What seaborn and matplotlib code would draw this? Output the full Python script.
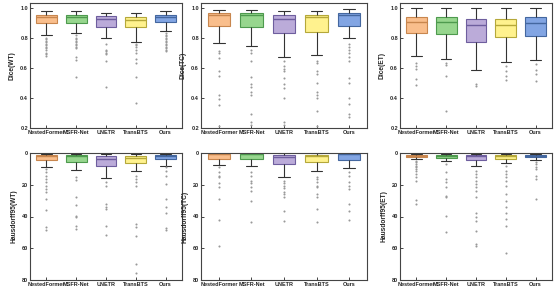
import matplotlib
matplotlib.use("Agg")
import matplotlib.pyplot as plt
import seaborn as sns

# Methods and colours
methods = ["NestedFormer", "MSFR-Net", "UNETR", "TransBTS", "Ours"]
fill_colors = ["#F9BE8C", "#97D68E", "#BBABD9", "#FFF28E", "#82A5E3"]
edge_colors = ["#C8864E", "#4E9A4E", "#6E5E9E", "#B5A83A", "#44679F"]

# five-number summaries per method: [whisker low, q1, median, q3, whisker high]
dice_wt_box = [[0.82, 0.902, 0.938, 0.953, 0.98],
               [0.831, 0.902, 0.94, 0.953, 0.98],
               [0.798, 0.876, 0.924, 0.947, 0.969],
               [0.776, 0.876, 0.92, 0.942, 0.969],
               [0.849, 0.909, 0.94, 0.953, 0.98]]
dice_wt_out = [[0.80, 0.79, 0.78, 0.77, 0.76, 0.75, 0.74, 0.73, 0.72, 0.70, 0.69, 0.68],
               [0.82, 0.80, 0.79, 0.78, 0.77, 0.76, 0.75, 0.74, 0.73, 0.675, 0.653, 0.538],
               [0.758, 0.72, 0.71, 0.70, 0.69, 0.649, 0.471],
               [0.76, 0.75, 0.74, 0.72, 0.70, 0.658, 0.631, 0.542, 0.369],
               [0.83, 0.82, 0.81, 0.80, 0.79, 0.78, 0.77, 0.76, 0.75, 0.74, 0.73, 0.72, 0.71]]

dice_tc_box = [[0.764, 0.882, 0.953, 0.964, 0.989],
               [0.747, 0.876, 0.953, 0.964, 0.989],
               [0.676, 0.836, 0.927, 0.951, 0.98],
               [0.687, 0.838, 0.938, 0.953, 0.98],
               [0.798, 0.882, 0.953, 0.969, 0.991]]
dice_tc_out = [[0.71, 0.70, 0.667, 0.578, 0.547, 0.42, 0.39, 0.35, 0.21],
               [0.72, 0.70, 0.644, 0.542, 0.49, 0.47, 0.44, 0.42, 0.29, 0.24, 0.22],
               [0.644, 0.611, 0.59, 0.578, 0.53, 0.49, 0.467, 0.40, 0.24, 0.22],
               [0.644, 0.631, 0.578, 0.56, 0.50, 0.44, 0.42, 0.40, 0.31, 0.21],
               [0.76, 0.74, 0.72, 0.70, 0.676, 0.644, 0.53, 0.50, 0.40, 0.36, 0.29, 0.27]]

dice_et_box = [[0.682, 0.836, 0.904, 0.942, 1.0],
               [0.658, 0.824, 0.904, 0.942, 1.0],
               [0.587, 0.771, 0.887, 0.927, 1.0],
               [0.64, 0.807, 0.887, 0.924, 1.0],
               [0.653, 0.813, 0.902, 0.942, 1.0]]
dice_et_out = [[0.631, 0.61, 0.59, 0.527, 0.487],
               [0.636, 0.62, 0.547, 0.31],
               [0.496, 0.48],
               [0.611, 0.58, 0.547, 0.52],
               [0.624, 0.587, 0.56, 0.513]]

hd_wt_box = [[0.6, 1.3, 1.9, 4.2, 8.6],
             [0.6, 1.3, 1.7, 5.5, 10.5],
             [0.6, 1.7, 3.8, 8.4, 16.0],
             [0.6, 2.1, 3.2, 6.5, 11.2],
             [0.6, 1.3, 2.1, 4.0, 8.0]]
hd_wt_out = [[10.1, 12.2, 14.3, 16.4, 18.5, 20.6, 22.7, 24.8, 29.0, 35.8, 46.3, 48.4],
             [15.4, 17.0, 28.0, 32.8, 39.6, 40.6, 45.9, 48.0],
             [18.5, 20.6, 32.2, 34.3, 35.4, 45.9, 51.6],
             [14.3, 16.4, 18.5, 20.6, 44.8, 46.9, 52.2, 69.7, 75.4],
             [9.0, 11.2, 14.3, 19.6, 29.0, 34.3, 37.5, 47.4, 48.6]]

hd_tc_box = [[0.3, 0.4, 0.6, 3.8, 7.6],
             [0.3, 0.4, 0.6, 3.8, 8.4],
             [0.2, 1.3, 2.7, 6.9, 15.4],
             [0.2, 1.3, 1.9, 5.5, 11.2],
             [0.3, 0.4, 0.6, 4.4, 9.5]]
hd_tc_out = [[9.0, 12.2, 14.3, 15.4, 19.2, 21.3, 29.0, 42.1, 58.5],
             [12.2, 14.3, 17.5, 19.2, 21.3, 23.8, 30.5, 43.4],
             [17.5, 19.2, 20.6, 22.3, 24.4, 25.9, 28.0, 36.4, 42.7],
             [15.4, 16.4, 18.5, 20.6, 21.7, 25.9, 27.6, 35.4, 43.2],
             [12.2, 14.3, 18.5, 20.6, 22.7, 32.2, 36.4, 42.3]]

hd_et_box = [[0.6, 1.1, 1.7, 2.5, 3.6],
             [0.6, 1.1, 1.9, 3.2, 5.3],
             [0.6, 1.1, 1.9, 4.2, 8.4],
             [0.6, 1.3, 1.9, 3.6, 6.3],
             [0.6, 1.1, 1.7, 2.5, 4.2]]
hd_et_out = [[4.8, 5.9, 7.0, 8.0, 9.0, 10.1, 11.2, 13.3, 15.4, 17.5, 29.7, 32.2],
             [7.0, 12.2, 16.4, 18.5, 21.7, 27.0, 28.0, 39.6, 49.5],
             [11.2, 13.3, 15.4, 17.5, 19.6, 21.7, 23.8, 28.0, 37.5, 40.2, 42.7, 49.0, 57.5, 58.5],
             [8.0, 11.2, 13.3, 15.4, 17.5, 20.6, 25.9, 30.1, 34.3, 37.5, 41.7, 45.9, 62.7],
             [5.9, 7.0, 9.0, 10.1, 14.3, 16.4, 29.0]]

sns.set_theme(style="ticks")
plt.rcParams["font.family"] = ["Liberation Sans", "DejaVu Sans"]
plt.rcParams["font.weight"] = "bold"

fig = plt.figure(figsize=(5.6, 2.89), dpi=100)
W, H = 560, 289

def add_ax(x0, x1, y0, y1):
    return fig.add_axes([x0 / W, 1 - y1 / H, (x1 - x0) / W, (y1 - y0) / H])

cols = [(30, 182), (201, 367), (400, 552)]
rows = [(3, 128), (153, 280)]

panels = [
    (dice_wt_box, dice_wt_out, "Dice(WT)", False),
    (dice_tc_box, dice_tc_out, "Dice(TC)", False),
    (dice_et_box, dice_et_out, "Dice(ET)", False),
    (hd_wt_box, hd_wt_out, "Hausdorff95(WT)", True),
    (hd_tc_box, hd_tc_out, "Hausdorff95(TC)", True),
    (hd_et_box, hd_et_out, "Hausdorff95(ET)", True),
]

for idx, (box, out, label, is_hd) in enumerate(panels):
    r, c = divmod(idx, 3)
    ax = add_ax(cols[c][0], cols[c][1], rows[r][0], rows[r][1])
    for i, m in enumerate(methods):
        sns.boxplot(
            x=[m] * len(box[i]), y=box[i], order=methods, ax=ax,
            whis=(0, 100), width=0.7, showfliers=False,
            color=fill_colors[i], saturation=1, linewidth=0.8,
            boxprops={"facecolor": fill_colors[i], "edgecolor": edge_colors[i]},
            medianprops={"color": edge_colors[i], "linewidth": 1.0},
            whiskerprops={"color": "#333333"},
            capprops={"color": "#333333"},
        )
    # outliers as separate points
    xs, ys = [], []
    for i, m in enumerate(methods):
        xs += [m] * len(out[i])
        ys += out[i]
    sns.stripplot(x=xs, y=ys, order=methods, jitter=False, color="#999999",
                  size=1.5, ax=ax)

    if is_hd:
        ax.set_ylim(80, 0)
        ax.set_yticks([0, 20, 40, 60, 80])
    else:
        ax.set_ylim(0.2, 1.033)
        ax.set_yticks([0.2, 0.4, 0.6, 0.8, 1.0])
        ax.set_yticklabels(["0.2", "0.4", "0.6", "0.8", "1.0"])
    ax.set_xlim(-0.55, 4.55)
    ax.set_xlabel("")
    ax.set_ylabel(label, fontsize=4.8, fontweight="bold", labelpad=3)
    ax.tick_params(direction="in", length=2, width=0.6, labelsize=4.0, pad=1.5)
    for t in ax.get_xticklabels() + ax.get_yticklabels():
        t.set_fontweight("bold")
    for s in ax.spines.values():
        s.set_visible(True)
        s.set_linewidth(0.8)
        s.set_color("#444444")

fig.savefig("out.png", dpi=100)
